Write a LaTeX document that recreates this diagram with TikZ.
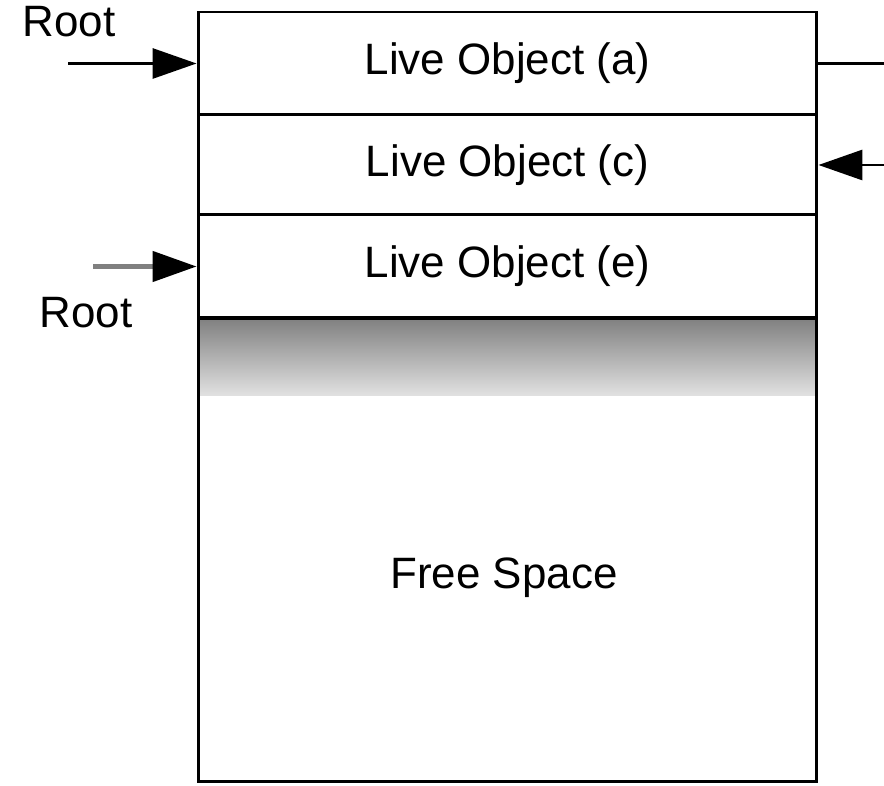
\documentclass[tikz,border=0pt]{standalone}
\usepackage{fontspec}
\setmainfont{Liberation Sans}
\usetikzlibrary{arrows.meta}

\begin{document}
\begin{tikzpicture}[x=0.02cm,y=-0.02cm,
    cell/.style={draw=black,line width=1.7pt,minimum width=12.38cm,inner sep=0pt},
    ptr/.style={-{Triangle[length=0.88cm,width=0.6cm,color=black]},line width=1.7pt},
    font=\fontsize{25}{30}\selectfont
  ]
  \useasboundingbox (0,0) rectangle (884,786);

  % partly used area below the live objects
  \shade[top color=black!50,middle color=black!28,bottom color=black!12] (198,318) rectangle (817,395);

  \node[cell,minimum height=2.06cm] (objA) at (507.5,63.5) {Live Object (a)};
  \node[cell,minimum height=2.00cm] (objC) at (507.5,165) {Live Object (c)};
  \node[cell,minimum height=2.06cm] (objE) at (507.5,266.5) {Live Object (e)};
  \node[cell,minimum height=9.28cm] (free) at (507.5,550) {};
  \node (freetxt) at (504,578) {Free Space};

  \node (root1) at (69,22) {Root};
  \node (root2) at (86,313) {Root};

  \coordinate (r1) at (68,63.5);
  \coordinate (r2) at (93,266.5);
  \coordinate (outA) at (884,63.5);
  \coordinate (inC) at (884,165);

  \draw[ptr] (r1) -- (objA.west);
  \draw[ptr,black!50,line width=2.6pt] (r2) -- (objE.west);
  \draw[line width=1.7pt] (objA.east) -- (outA);
  \draw[ptr] (inC) -- (objC.east);

\end{tikzpicture}
\end{document}
